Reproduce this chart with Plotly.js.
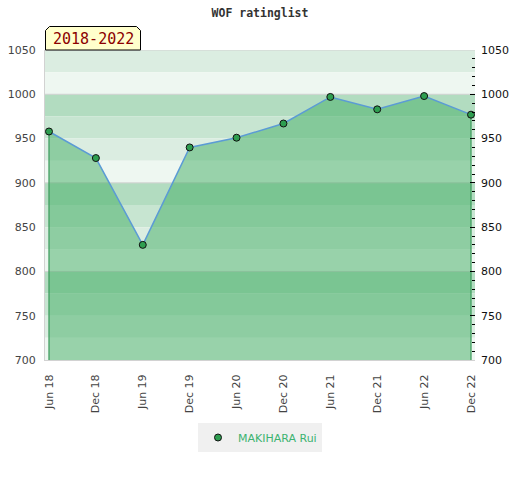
<!DOCTYPE html>
<html>
<head>
<meta charset="utf-8">
<script src="https://cdn.plot.ly/plotly-3.0.1.min.js"></script>
<style>html,body{margin:0;padding:0;background:#fff;}#chart{width:520px;height:480px;}</style>
</head>
<body>
<div id="chart"></div>
<script>
// ---- data ----
const periods = ["Jun 18","Dec 18","Jun 19","Dec 19","Jun 20","Dec 20","Jun 21","Dec 21","Jun 22","Dec 22"];
const ratings = [958, 928, 830, 940, 951, 967, 997, 983, 998, 977];
const playerName = "MAKIHARA Rui";
const periodLabel = "2018-2022";
const chartTitle = "WOF ratinglist";
const yMin = 700, yMax = 1050;

// ---- layout helpers ----
const W = 520, H = 480, ML = 45, MR = 45, MT = 50, MB = 120;
const PW = W - ML - MR, PH = H - MT - MB;
const px2x = p => (p - ML) / PW;
const px2y = p => (H - MB - p) / PH;

const bandColors = {0: '#b2dcc0', 75: '#c7e5d1', 50: '#dbede1', 25: '#eef7f1'};
const shapes = [];
for (let top = yMax; top > yMin; top -= 25) {
  shapes.push({type: 'rect', xref: 'paper', yref: 'y', x0: 0, x1: 1, y0: top - 25, y1: top,
    fillcolor: bandColors[top % 100], line: {width: 0}, layer: 'below'});
}
for (let v = yMax; v > yMin; v -= 50) {
  if (v % 100 === 0 || v === yMax) {
    shapes.push({type: 'line', xref: 'paper', yref: 'y', x0: 0, x1: 1, y0: v, y1: v,
      line: {color: '#d2d2d2', width: 1}, layer: 'below'});
  }
}
// label box with clipped top corners
const bx0 = 45.5, bx1 = 140.5, by0 = 26.5, by1 = 50, cut = 4;
shapes.push({type: 'path', xref: 'paper', yref: 'paper',
  path: `M${px2x(bx0)},${px2y(by1)} L${px2x(bx0)},${px2y(by0+cut)} L${px2x(bx0+cut)},${px2y(by0)} L${px2x(bx1-cut)},${px2y(by0)} L${px2x(bx1)},${px2y(by0+cut)} L${px2x(bx1)},${px2y(by1)} Z`,
  fillcolor: '#ffffcc', line: {color: '#000', width: 1}});

const n = periods.length;
const traces = [
  {x: periods, y: ratings, type: 'scatter', mode: 'lines', fill: 'tozeroy',
   fillcolor: 'rgba(66,174,100,0.5)', line: {color: '#5b9bd5', width: 1.5},
   showlegend: false, hoverinfo: 'skip'},
  {x: [periods[0], periods[0], null, periods[n-1], periods[n-1]],
   y: [ratings[0], yMin, null, ratings[n-1], yMin], type: 'scatter', mode: 'lines',
   line: {color: '#3a9a5a', width: 1.2}, showlegend: false, hoverinfo: 'skip', connectgaps: false},
  {x: periods, y: ratings, type: 'scatter', mode: 'markers', name: playerName,
   marker: {color: '#2e9e50', size: 7, line: {color: '#111', width: 1}}},
  {x: periods, y: ratings, type: 'scatter', mode: 'lines', yaxis: 'y2',
   line: {width: 0}, showlegend: false, hoverinfo: 'skip'}
];

const layout = {
  width: W, height: H,
  margin: {l: ML, r: MR, t: MT, b: MB, pad: 0},
  paper_bgcolor: '#fff', plot_bgcolor: '#fff',
  font: {family: 'DejaVu Sans', size: 11, color: '#444'},
  title: {text: '<b>' + chartTitle + '</b>', font: {family: 'DejaVu Sans Mono', size: 11.5, color: '#333'},
          x: 0.5, xanchor: 'center', y: 1 - 13 / H, yanchor: 'middle', yref: 'container'},
  xaxis: {type: 'category', range: [-0.085, n - 1 + 0.085], tickangle: -90,
          showgrid: false, zeroline: false, showline: true, linecolor: '#d2d2d2', linewidth: 1,
          ticks: 'outside', ticklen: 9, tickcolor: 'rgba(0,0,0,0)',
          tickfont: {family: 'DejaVu Sans', size: 11, color: '#444'}},
  yaxis: {range: [yMin, yMax], dtick: 50, tick0: yMin, showgrid: false, zeroline: false,
          showline: true, linecolor: '#d2d2d2', linewidth: 1,
          ticks: 'outside', ticklen: 6, tickcolor: 'rgba(0,0,0,0)',
          tickfont: {family: 'DejaVu Sans', size: 11, color: '#444'}},
  yaxis2: {overlaying: 'y', side: 'right', range: [yMin, yMax], dtick: 50, tick0: yMin,
           showgrid: false, zeroline: false, showline: false,
           ticks: 'inside', ticklen: 5, tickcolor: '#000', tickwidth: 1,
           minor: {dtick: 10, tick0: yMin, ticks: 'inside', ticklen: 3, tickcolor: '#000', tickwidth: 1, showgrid: false},
           ticklabelstandoff: 5,
           tickfont: {family: 'DejaVu Sans', size: 11, color: '#111'}},
  legend: {orientation: 'h', x: 0.5, xanchor: 'center', y: px2y(423), yanchor: 'top',
           bgcolor: '#f0f0f0', font: {family: 'DejaVu Sans', size: 11, color: '#3cb371'}},
  shapes: shapes,
  annotations: [{text: periodLabel, xref: 'paper', yref: 'paper',
                 x: px2x((bx0 + bx1) / 2), y: px2y(39), xanchor: 'center', yanchor: 'middle',
                 showarrow: false, font: {family: 'DejaVu Sans Mono', size: 15, color: '#8b0000'}}],
  hovermode: false
};

Plotly.newPlot('chart', traces, layout, {displayModeBar: false, staticPlot: true});
</script>
</body>
</html>
